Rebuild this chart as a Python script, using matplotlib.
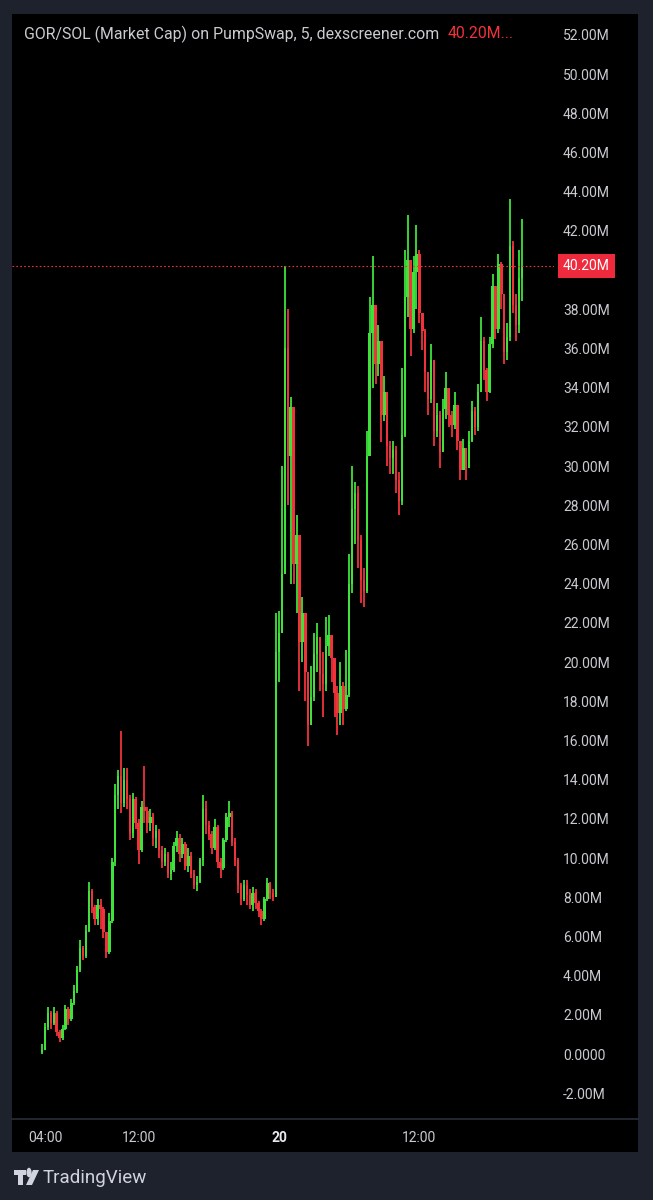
import numpy as np
import pandas as pd
import matplotlib
matplotlib.use("Agg")
import matplotlib.pyplot as plt
import matplotlib.dates as mdates
from matplotlib.lines import Line2D
from matplotlib.patches import Polygon, Circle
from matplotlib.transforms import blended_transform_factory

plt.rcParams['font.family'] = ['Roboto', 'DejaVu Sans']

# 15-min candles (market cap in millions), one row ~2.5 h
first_open = 0.1
closes = [
    0.2, 1.4, 2.1, 1.6, 2.1, 1.1, 0.8, 1.3, 2.3, 1.8,
    2.6, 3.2, 4.3, 5.4, 5.0, 6.3, 8.3, 7.5, 6.9, 7.6,
    7.4, 6.2, 5.2, 6.8, 9.8, 13.2, 14.2, 12.8, 14.0, 13.0,
    11.3, 13.0, 11.8, 10.4, 12.6, 12.4, 11.8, 12.1, 11.0, 11.4,
    10.4, 9.8, 10.2, 9.2, 9.4, 10.6, 11.0, 10.2, 10.7, 9.6,
    10.1, 9.2, 8.6, 8.8, 9.9, 12.5, 11.7, 11.2, 10.5, 11.6,
    9.8, 9.5, 10.9, 12.1, 12.3, 10.8, 9.9, 8.6, 7.9, 8.6,
    8.1, 7.6, 8.2, 7.7, 7.3, 6.9, 7.9, 8.7, 8.2, 8.0,
    20.5, 21.5, 24.5, 36.0, 30.5, 33.0, 25.0, 26.5, 21.0, 22.5,
    19.5, 16.8, 18.2, 20.4, 21.3, 19.4, 18.9, 20.8, 21.4, 20.2,
    18.4, 17.4, 18.8, 17.6, 18.3, 24.0, 27.8, 28.6, 26.2, 24.2,
    23.6, 30.5, 36.8, 38.2, 35.2, 36.4, 32.6, 33.8, 31.0, 30.4,
    30.8, 29.3, 28.2, 31.6, 38.6, 40.5, 37.0, 39.9, 40.8, 37.8,
    36.9, 34.8, 33.4, 35.4, 31.8, 32.6, 30.7, 32.9, 34.0, 32.6,
    32.1, 33.1, 31.3, 29.8, 30.9, 29.9, 31.3, 32.8, 32.0, 33.8,
    36.4, 34.9, 33.8, 36.2, 39.2, 37.0, 40.3, 38.8, 35.8, 36.6,
    41.2, 38.2, 37.2, 39.6, 40.2,
]
highs = [
    0.5, 1.6, 2.4, 2.2, 2.4, 2.2, 1.2, 1.5, 2.5, 2.4,
    2.8, 3.5, 4.5, 5.8, 5.5, 6.6, 8.8, 8.4, 7.6, 7.9,
    7.9, 7.5, 5.6, 7.2, 10.0, 13.8, 14.5, 16.5, 14.6, 14.6,
    13.2, 13.3, 13.1, 12.0, 12.9, 14.7, 12.6, 12.5, 12.3, 11.7,
    11.5, 10.6, 10.5, 10.3, 9.8, 10.8, 11.4, 11.2, 11.0, 10.8,
    10.5, 10.3, 9.4, 9.1, 10.0, 13.2, 12.9, 11.9, 11.4, 12.0,
    11.7, 10.0, 11.0, 12.3, 12.9, 12.4, 11.0, 10.0, 8.7, 8.9,
    8.9, 8.4, 8.5, 8.4, 7.8, 7.4, 8.0, 9.0, 8.8, 8.4,
    22.5, 22.6, 30.0, 40.2, 38.0, 33.5, 30.3, 27.5, 23.8, 23.3,
    21.0, 19.5, 19.8, 21.5, 22.0, 21.0, 20.5, 22.3, 22.4, 21.0,
    19.6, 18.8, 20.0, 19.0, 20.6, 25.5, 30.0, 29.2, 29.0, 26.5,
    24.8, 31.8, 38.6, 40.7, 37.8, 37.2, 33.8, 34.6, 32.5, 31.3,
    31.3, 31.0, 29.7, 35.0, 41.0, 42.8, 40.5, 40.7, 42.3, 41.0,
    37.8, 37.0, 34.6, 36.2, 34.0, 33.2, 32.8, 33.4, 34.8, 34.0,
    32.8, 33.8, 32.3, 30.9, 31.4, 30.8, 31.8, 33.3, 33.0, 34.2,
    37.6, 36.6, 35.0, 36.6, 39.8, 39.0, 40.8, 40.4, 38.8, 37.3,
    43.6, 41.5, 38.8, 41.0, 42.6,
]
lows = [
    0.0, 0.2, 1.2, 1.3, 1.5, 0.9, 0.6, 0.7, 1.2, 1.5,
    1.7, 2.5, 3.1, 4.2, 4.8, 4.9, 6.2, 7.2, 6.6, 6.6,
    6.4, 5.9, 4.9, 5.1, 6.7, 9.6, 12.5, 12.3, 12.6, 12.5,
    10.9, 11.0, 11.5, 9.7, 10.3, 11.8, 11.3, 11.4, 10.6, 10.5,
    10.0, 9.5, 9.6, 9.0, 8.9, 9.3, 10.3, 9.8, 10.0, 9.4,
    9.3, 9.0, 8.4, 8.3, 8.7, 9.6, 11.2, 10.9, 10.2, 10.4,
    9.5, 9.0, 9.4, 10.8, 11.6, 10.6, 9.6, 8.2, 7.6, 7.8,
    7.6, 7.4, 7.3, 7.4, 7.0, 6.6, 6.8, 7.8, 7.9, 7.8,
    8.0, 19.0, 21.5, 24.5, 28.0, 24.0, 24.0, 22.5, 18.5, 20.0,
    18.0, 15.7, 16.8, 18.0, 19.5, 18.5, 17.2, 18.5, 20.3, 19.0,
    17.2, 16.3, 16.8, 16.8, 17.5, 18.2, 23.5, 26.0, 24.8, 23.0,
    22.8, 23.5, 30.5, 34.0, 34.2, 34.6, 31.2, 32.3, 30.0, 29.6,
    29.6, 28.6, 27.5, 28.0, 31.5, 37.6, 35.6, 36.8, 38.0, 37.3,
    35.9, 33.8, 32.6, 33.2, 31.0, 31.5, 29.9, 30.9, 32.4, 32.0,
    31.5, 31.9, 30.8, 29.3, 29.8, 29.3, 30.3, 31.2, 31.6, 31.8,
    34.0, 34.4, 33.3, 33.7, 36.0, 36.5, 36.8, 38.0, 35.2, 35.4,
    36.4, 37.8, 36.4, 36.8, 38.4,
]
last_price = 40.20
price_ticks = list(range(-2, 53, 2))
time_ticks = ['2025-07-19 04:00', '2025-07-19 12:00', '2025-07-20 00:00', '2025-07-20 12:00']
time_labels = ['04:00', '12:00', '20', '12:00']

W, H = 653, 1200
GREEN = '#3ee23a'
RED = '#f0323a'
TXT = '#c9cbd1'

times = pd.date_range('2025-07-19 03:45', periods=len(closes), freq='15min')
x = mdates.date2num(times)
c = np.array(closes)
o = np.concatenate([[first_open], c[:-1]])
hi = np.array(highs)
lo = np.array(lows)

fig = plt.figure(figsize=(W / 100, H / 100), dpi=100, facecolor='#1e222d')

panel = fig.add_axes([12 / W, 1 - 1152 / H, 626 / W, 1138 / H])
panel.set_axis_off()
panel.add_patch(plt.Rectangle((0, 0), 1, 1, transform=panel.transAxes, fc='black', ec='none'))

ax = fig.add_axes([12 / W, 1 - 1119 / H, 542 / W, 1105 / H])
ax.set_facecolor('none')
for s in ax.spines.values():
    s.set_visible(False)

up = c >= o
cols = np.where(up, GREEN, RED)
step = 0.25 / 24
ax.vlines(x, lo, hi, colors=cols, lw=1.3)
ax.bar(x, np.maximum(np.abs(c - o), 0.08), bottom=np.minimum(o, c),
       width=step * 0.85, color=cols, edgecolor='none')

# axis ranges matched to the screenshot scale
px_per_m = 19.6
ax.set_ylim((1054 - 1119) / px_per_m, (1054 - 14) / px_per_m)
t04 = mdates.date2num(pd.Timestamp('2025-07-19 04:00'))
px_per_day = 11.7 * 24
ax.set_xlim(t04 + (12 - 45) / px_per_day, t04 + (554 - 45) / px_per_day)

# the 40.00M label sits under the last-price tag
ax.yaxis.tick_right()
ax.set_yticks(price_ticks)
ax.set_yticklabels(['0.0000' if v == 0 else ('' if v == 40 else f'{v:.2f}M')
                    for v in price_ticks])
ax.tick_params(axis='y', length=0, pad=6.5, labelsize=10, labelcolor=TXT)

ax.set_xticks(mdates.date2num(pd.to_datetime(time_ticks)))
ax.set_xticklabels(time_labels)
ax.tick_params(axis='x', length=0, pad=9, labelsize=10, labelcolor=TXT)
ax.get_xticklabels()[2].set_fontweight('bold')
ax.get_xticklabels()[2].set_color('#e8e9ec')

# last price line and tag
ax.axhline(last_price, color=RED, lw=0.8, ls=(0, (1.5, 2)))
tr = blended_transform_factory(ax.transAxes, ax.transData)
ax.text(1.0 + 9 / 542, last_price, '40.20M', transform=tr, ha='left', va='center',
        color='white', fontsize=10,
        bbox=dict(boxstyle='square,pad=0.35', fc='#ee2a3c', ec='none'))

# separator above the time axis
fig.add_artist(Line2D([12 / W, 638 / W], [1 - 1119 / H] * 2, color='#2a2e39', lw=1.2))

# header
t1 = fig.text(24 / W, 1 - 34 / H, 'GOR/SOL (Market Cap) on PumpSwap, 5, dexscreener.com',
              color=TXT, fontsize=11.4, va='center', ha='left')
fig.canvas.draw()
bb = t1.get_window_extent()
fig.text((bb.x1 + 8) / W, 1 - 34 / H, '40.20M...', color=RED, fontsize=11.4,
         va='center', ha='left')

# TradingView footer
def fxy(px, py):
    return (px / W, 1 - py / H)

logo_col = '#d1d4dc'
fig.add_artist(Polygon([fxy(14, 1170), fxy(26, 1170), fxy(26, 1175), fxy(23, 1175),
                        fxy(23, 1185), fxy(18, 1185), fxy(18, 1175), fxy(14, 1175)],
                       closed=True, transform=fig.transFigure, fc=logo_col, ec='none'))
fig.add_artist(Circle(fxy(29, 1172.5), 2.6 / W, transform=fig.transFigure, fc=logo_col, ec='none'))
fig.add_artist(Polygon([fxy(33, 1170), fxy(39, 1170), fxy(32, 1185), fxy(26, 1185)],
                       closed=True, transform=fig.transFigure, fc=logo_col, ec='none'))
fig.text(43 / W, 1 - 1178 / H, 'TradingView', color=logo_col, fontsize=13.5,
         va='center', ha='left')

fig.savefig('out.png', dpi=100, facecolor=fig.get_facecolor())
